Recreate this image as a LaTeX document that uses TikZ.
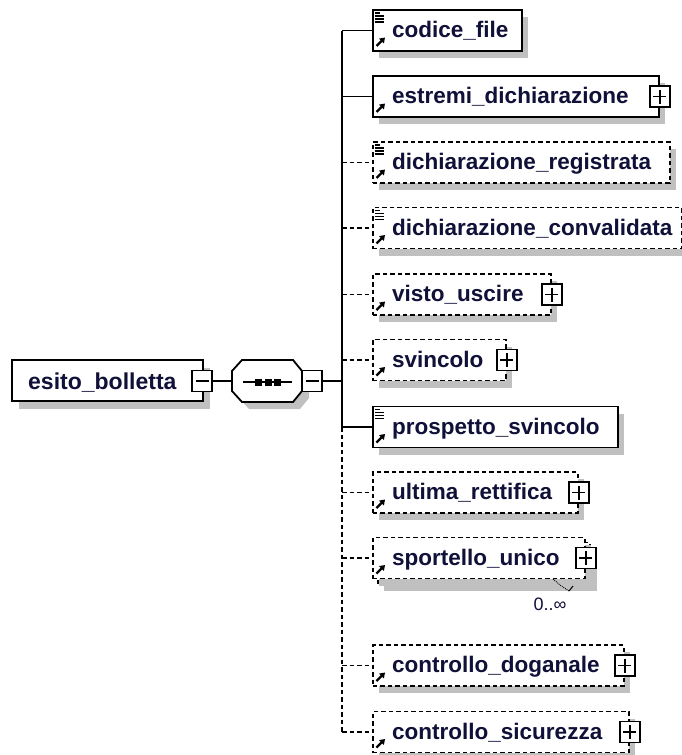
\documentclass[tikz,border=0pt]{standalone}
\usepackage{fontspec}
\setmainfont{Liberation Sans}
\usetikzlibrary{arrows.meta}
\definecolor{txt}{RGB}{16,16,56}
\definecolor{shd}{RGB}{192,192,192}
\tikzset{
  elbox/.style={draw, fill=white, line width=1.8pt, inner sep=0pt, minimum height=41pt, anchor=west},
  optbox/.style={elbox, dash pattern=on 4.5pt off 3pt},
  lbl/.style={anchor=base west, inner sep=0pt, font=\fontsize{22.5}{24}\selectfont\bfseries, text=txt},
  conn/.style={line width=1.8pt},
  optconn/.style={conn, dash pattern=on 4.5pt off 3pt},
  pmbox/.style={draw, fill=white, line width=1.6pt, inner sep=0pt, minimum width=20pt, minimum height=21pt},
  plusbox/.style={pmbox, path picture={
     \draw[line width=1.6pt] ([xshift=3.5pt]path picture bounding box.west) -- ([xshift=-3.5pt]path picture bounding box.east);
     \draw[line width=1.6pt] ([yshift=-3.5pt]path picture bounding box.north) -- ([yshift=3.5pt]path picture bounding box.south);}},
  minusbox/.style={pmbox, path picture={
     \draw[line width=1.6pt] ([xshift=3.5pt]path picture bounding box.west) -- ([xshift=-3.5pt]path picture bounding box.east);}},
  refarrow/.style={line width=2.3pt, -{Triangle[length=5pt,width=6.5pt]}}
}
% #1 name, #2 centre y, #3 right x, #4 style, #5 text
\newcommand\xelem[5]{%
  \fill[shd] (379,#2-13.5) rectangle (#3+7,#2+27.5);
  \node[#4, minimum width={#3pt-372pt}] (#1) at (372,#2) {};
  \node[lbl] (#1t) at (392,#2+7) {#5};
  \draw[refarrow] (376.5,#2+15.5) -- (385,#2+7);
}
\newcommand\xlines[1]{%
  \draw[line width=1.3pt] (374.5,#1-17.5) -- (380,#1-17.5)
     (374.5,#1-14.5) -- (384,#1-14.5) (374.5,#1-11.5) -- (384,#1-11.5) (374.5,#1-8.5) -- (384,#1-8.5);
}
\begin{document}
\begin{tikzpicture}[x=1pt,y=-1pt]
\useasboundingbox (0,0) rectangle (682,755);
\fill[white] (0,0) rectangle (682,755);

% root element
\fill[shd] (19,368) rectangle (210,409);
\node[elbox, minimum width=191pt] (root) at (11,380.5) {};
\node[lbl, font=\fontsize{23}{25}\selectfont\bfseries] (roott) at (28,389) {esito\_bolletta};
\node[minusbox] (m0) at (202,381) {};

% sequence compositor
\node[inner sep=0pt, minimum width=70pt, minimum height=42pt] (seq) at (267,381) {};
\fill[shd] (249,367) -- (300,367) -- (309,378) -- (309,398) -- (300,409) -- (249,409) -- (239,398) -- (239,378) -- cycle;
\draw[line width=1.8pt, fill=white] (242,360) -- (293,360) -- (302,371) -- (302,391) -- (293,402) -- (242,402) -- (232,391) -- (232,371) -- cycle;
\draw[line width=1.6pt] (243,382) -- (292,382);
\fill (255,378.5) rectangle (262,385.5);
\fill (264.5,378.5) rectangle (271.5,385.5);
\fill (274,378.5) rectangle (281,385.5);
\node[minusbox] (m1) at (312,381) {};

% children
\xelem{c1}{30.5}{521}{elbox}{codice\_file}\xlines{30.5}
\xelem{c2}{96.5}{658}{elbox}{estremi\_dichiarazione}
\node[plusbox] (p2) at (c2.east) {};
\xelem{c3}{162.5}{669}{optbox}{dichiarazione\_registrata}\xlines{162.5}
\xelem{c4}{228}{681}{optbox}{dichiarazione\_convalidata}\xlines{228}
\xelem{c5}{294.5}{550}{optbox}{visto\_uscire}
\node[plusbox] (p5) at (c5.east) {};
\xelem{c6}{360}{505}{optbox}{svincolo}
\node[plusbox] (p6) at (c6.east) {};
\xelem{c7}{427}{617}{elbox}{prospetto\_svincolo}\xlines{427}
\xelem{c8}{492.5}{577}{optbox}{ultima\_rettifica}
\node[plusbox] (p8) at (c8.east) {};

% multiple occurrence element
\fill[shd] (384,549) rectangle (597,591);
\node[optbox, minimum width=212pt] (c9b) at (377,563) {};
\xelem{c9}{558}{584}{optbox}{sportello\_unico}
\node[plusbox] (p9) at (c9.east) {};
\draw[line width=0.9pt, densely dotted] (553,579) -- (560,585) -- (569,591);
\draw[line width=1pt] (569,591) -- (573,586);
\node[inner sep=0pt, font=\fontsize{18}{20}\selectfont, text=txt] (occ) at (550,604) {0..∞};

\xelem{c10}{665.5}{623}{optbox}{controllo\_doganale}
\node[plusbox] (p10) at (c10.east) {};
\xelem{c11}{732}{628}{optbox}{controllo\_sicurezza}
\node[plusbox] (p11) at (c11.east) {};

% trunk junctions
\coordinate (j0) at (342,381);
\coordinate (j1) at (342,30.5);
\coordinate (j2) at (342,96.5);
\coordinate (j3) at (342,162.5);
\coordinate (j4) at (342,228);
\coordinate (j5) at (342,294.5);
\coordinate (j6) at (342,360);
\coordinate (j7) at (342,427);
\coordinate (j8) at (342,492.5);
\coordinate (j9) at (342,558);
\coordinate (j10) at (342,665.5);
\coordinate (j11) at (342,732);

% connectors
\draw[conn] (m0.east) -- (seq.west);
\draw[conn] (m1.east) -- (j0);
\draw[conn] (j1) -- (j7);
\draw[optconn] (j7) -- (j11);
\draw[conn] (j1) -- (c1.west);
\draw[conn] (j2) -- (c2.west);
\draw[optconn] (j3) -- (c3.west);
\draw[optconn] (j4) -- (c4.west);
\draw[optconn] (j5) -- (c5.west);
\draw[optconn] (j6) -- (c6.west);
\draw[conn] (j7) -- (c7.west);
\draw[optconn] (j8) -- (c8.west);
\draw[optconn] (j9) -- (c9.west);
\draw[optconn] (j10) -- (c10.west);
\draw[optconn] (j11) -- (c11.west);
\end{tikzpicture}
\end{document}
